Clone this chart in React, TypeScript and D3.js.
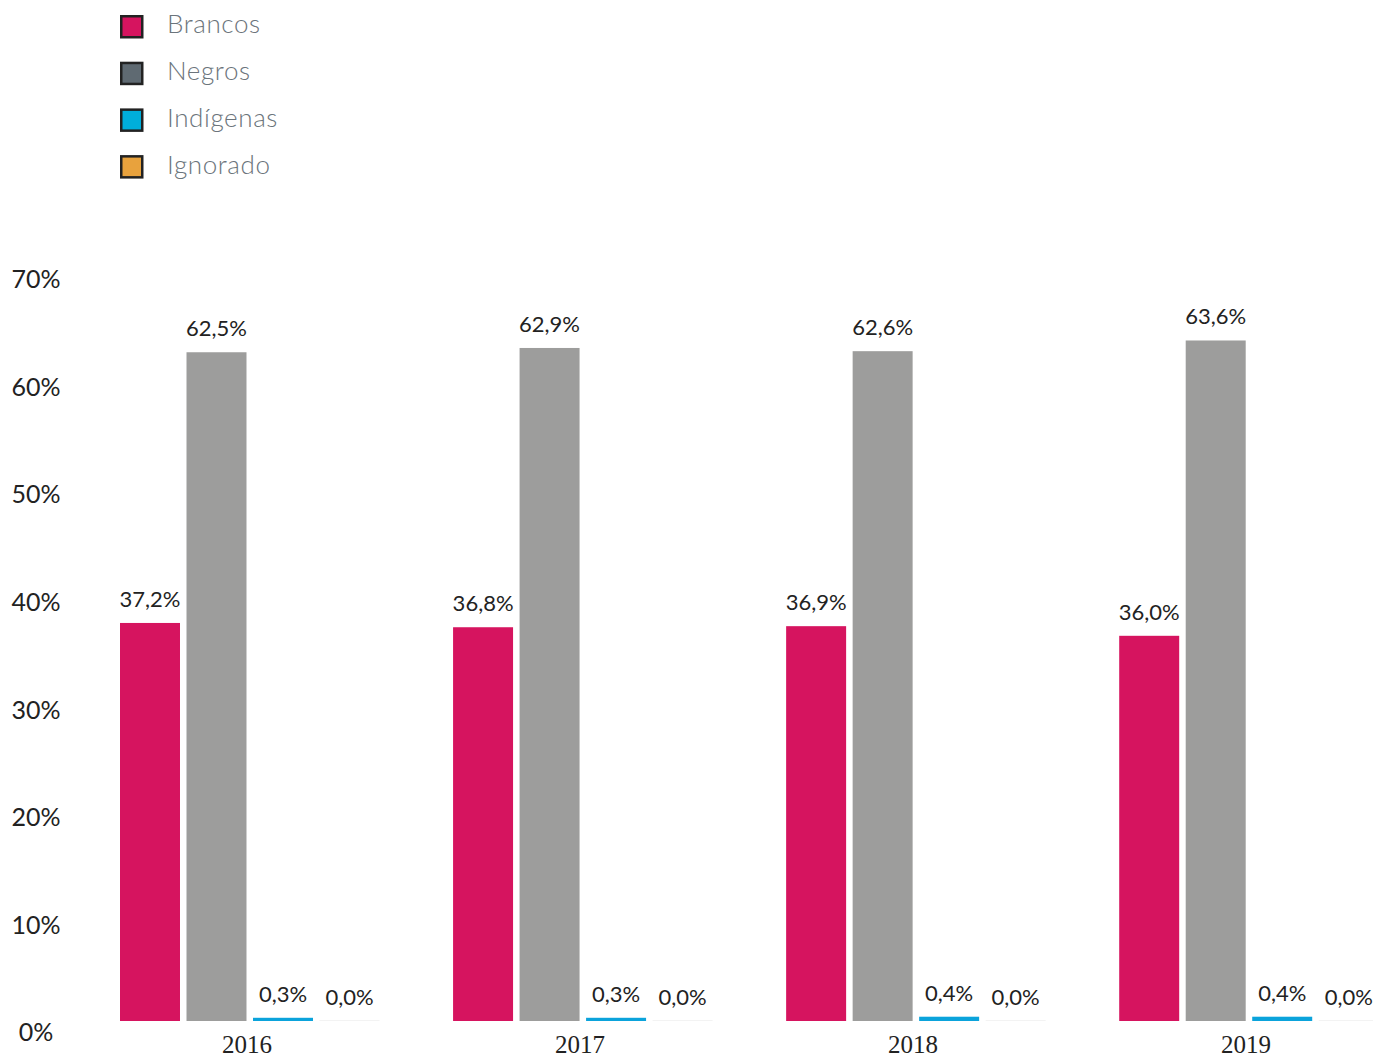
import React, { useEffect, useRef } from 'react';
import * as d3 from 'd3';

const W = 1373;
const H = 1059;

const years = ['2016', '2017', '2018', '2019'];
const series = ['Brancos', 'Negros', 'Indígenas', 'Ignorado'];
const brancos = [37.2, 36.8, 36.9, 36.0];
const negros = [62.5, 62.9, 62.6, 63.6];
const indigenas = [0.3, 0.3, 0.4, 0.4];
const ignorado = [0.0, 0.0, 0.0, 0.0];
const yTicks = [0, 10, 20, 30, 40, 50, 60, 70];

const barColors = ['#D6145F', '#9D9D9C', '#0BA3DB', '#E8A23D'];
const legendColors = ['#D6145F', '#5F6A72', '#00AEDB', '#E8A23D'];

const fmt = (v: number) => `${v.toFixed(1).replace('.', ',')}%`;

export default function App() {
  const svgRef = useRef<SVGSVGElement>(null);

  useEffect(() => {
    if (!svgRef.current) return;
    const svg = d3.select(svgRef.current);
    svg.selectAll('*').remove();

    const values = [brancos, negros, indigenas, ignorado];

    // bars use a slightly different scale than the printed axis labels (as in the source)
    const y = d3.scaleLinear().domain([0, 70]).range([1021, 272]);
    const yLabel = d3.scaleLinear().domain([0, 70]).range([1035, 282]);
    const x0 = d3.scaleBand().domain(years).range([120, 1379]).paddingInner(0.22).paddingOuter(0);
    const x1 = d3.scaleBand().domain(series).range([0, 259.5]).paddingInner(0.098).paddingOuter(0);

    // y tick labels
    svg.append('g')
      .selectAll('text')
      .data(yTicks)
      .join('text')
      .attr('x', 36)
      .attr('y', (d) => yLabel(d))
      .attr('text-anchor', 'middle')
      .attr('dominant-baseline', 'middle')
      .attr('font-family', 'Lato, "Open Sans", sans-serif')
      .attr('font-size', '25px')
      .attr('fill', '#222')
      .text((d) => `${d}%`);

    // bars
    years.forEach((yr, i) => {
      const g = svg.append('g').attr('transform', `translate(${x0(yr)},0)`);
      series.forEach((s, j) => {
        const v = values[j][i];
        const bx = x1(s) ?? 0;
        const bw = x1.bandwidth();
        if (v > 0) {
          g.append('rect')
            .attr('x', bx)
            .attr('y', y(v))
            .attr('width', bw)
            .attr('height', y(0) - y(v))
            .attr('fill', barColors[j]);
        } else {
          g.append('rect')
            .attr('x', bx)
            .attr('y', y(0) - 1)
            .attr('width', bw)
            .attr('height', 1)
            .attr('fill', '#f3f3f3');
        }
        g.append('text')
          .attr('x', bx + bw / 2)
          .attr('y', y(v) - 16)
          .attr('text-anchor', 'middle')
          .attr('font-family', 'Lato, "Open Sans", sans-serif')
          .attr('font-size', '22px')
          .attr('fill', '#222')
          .text(fmt(v));
      });

      // year label
      svg.append('text')
        .attr('x', (x0(yr) ?? 0) + x0.bandwidth() / 2 - 3)
        .attr('y', 1053)
        .attr('text-anchor', 'middle')
        .attr('font-family', '"Liberation Serif", "Times New Roman", serif')
        .attr('font-size', '25px')
        .attr('fill', '#222')
        .text(yr);
    });

    // legend
    const legend = svg.append('g').attr('transform', 'translate(120,15)');
    series.forEach((s, j) => {
      const row = legend.append('g').attr('transform', `translate(0,${j * 46.7})`);
      row.append('rect')
        .attr('x', 1.25)
        .attr('y', 1.25)
        .attr('width', 21)
        .attr('height', 21)
        .attr('fill', legendColors[j])
        .attr('stroke', '#222')
        .attr('stroke-width', 2.5);
      row.append('text')
        .attr('x', 47)
        .attr('y', 12)
        .attr('dominant-baseline', 'middle')
        .attr('font-family', 'Lato, "Open Sans", sans-serif')
        .attr('font-weight', 300)
        .attr('font-size', '26px')
        .attr('letter-spacing', '0.6px')
        .attr('fill', '#6B747B')
        .text(s);
    });
  }, []);

  return (
    <svg
      ref={svgRef}
      width={W}
      height={H}
      style={{ position: 'absolute', left: 0, top: 0, background: '#fff' }}
    />
  );
}
